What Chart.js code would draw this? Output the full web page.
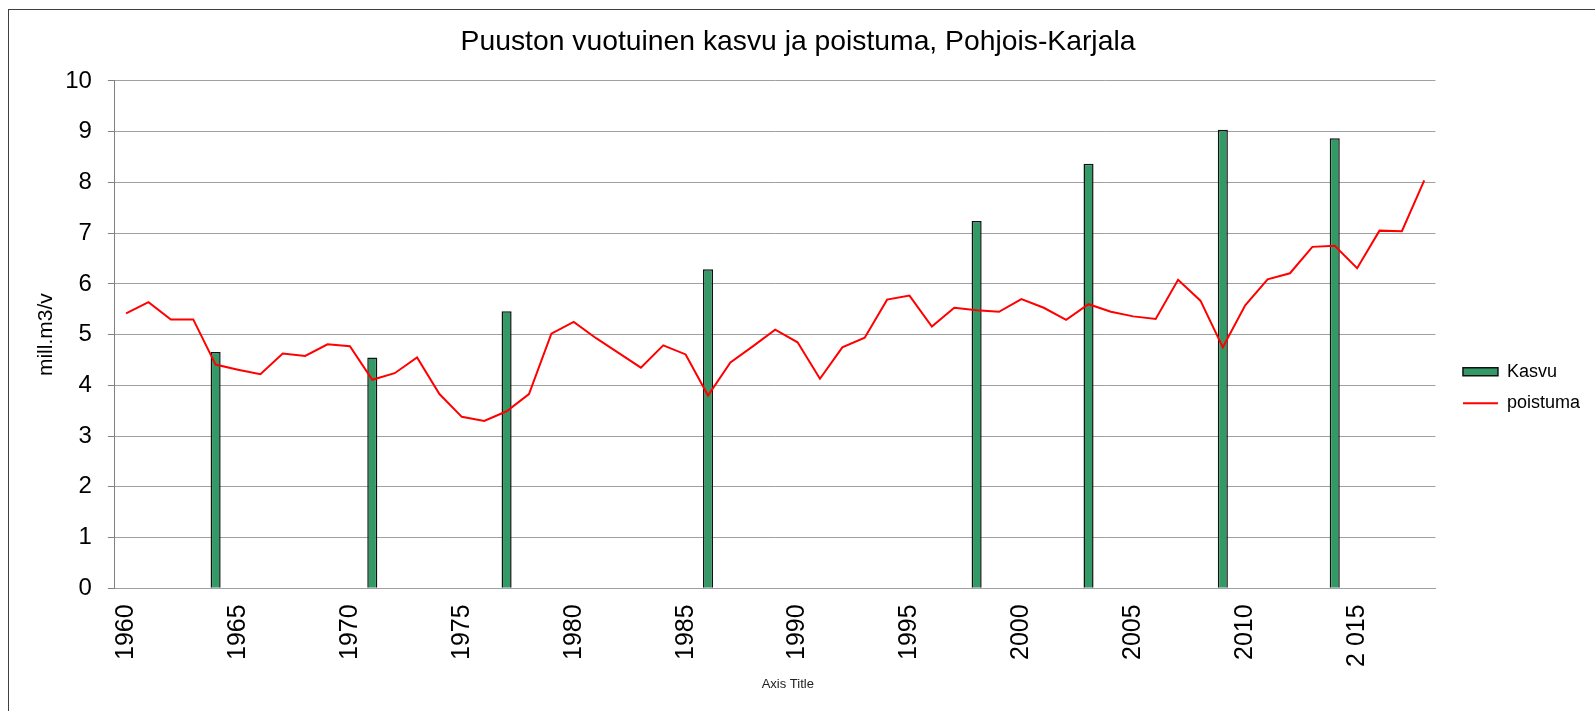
<!DOCTYPE html>
<html>
<head>
<meta charset="utf-8">
<script src="https://cdn.jsdelivr.net/npm/chart.js@4.4.1/dist/chart.umd.min.js"></script>
<style>
  body { margin: 0; background: #fff; }
  #wrap { position: relative; width: 1595px; height: 711px; }
  #frame { position: absolute; left: 8px; top: 9px; right: 0; bottom: 0; border-left: 1px solid #404040; border-top: 1px solid #404040; pointer-events: none; }
</style>
</head>
<body>
<div id="wrap">
  <canvas id="chart" width="1595" height="711"></canvas>
  <div id="frame"></div>
</div>
<script>
// years 1960..2018
var years = ['1960','1961','1962','1963','1964','1965','1966','1967','1968','1969',
             '1970','1971','1972','1973','1974','1975','1976','1977','1978','1979',
             '1980','1981','1982','1983','1984','1985','1986','1987','1988','1989',
             '1990','1991','1992','1993','1994','1995','1996','1997','1998','1999',
             '2000','2001','2002','2003','2004','2005','2006','2007','2008','2009',
             '2010','2011','2012','2013','2014','2015','2016','2017','2018'];

// tick labels, every fifth year
var xTickLabels = ['1960','1965','1970','1975','1980','1985','1990','1995','2000','2005','2010','2 015'];

// Kasvu (only measured in some years)
var kasvu = [null,null,null,null,4.66,null,null,null,null,null,
             null,4.55,null,null,null,null,null,5.46,null,null,
             null,null,null,null,null,null,6.29,null,null,null,
             null,null,null,null,null,null,null,null,7.24,null,
             null,null,null,8.37,null,null,null,null,null,9.04,
             null,null,null,null,8.87,null,null,null,null];

// poistuma
var poistuma = [5.42,5.64,5.30,5.30,4.41,4.31,4.22,4.63,4.58,4.81,
                4.77,4.11,4.24,4.55,3.83,3.38,3.30,3.49,3.83,5.02,
                5.25,4.93,4.64,4.35,4.79,4.61,3.80,4.45,4.77,5.10,
                4.85,4.13,4.75,4.94,5.69,5.77,5.16,5.53,5.48,5.45,
                5.70,5.53,5.29,5.60,5.45,5.36,5.31,6.08,5.67,4.75,
                5.58,6.09,6.21,6.73,6.75,6.31,7.05,7.04,8.04];

Chart.defaults.font.family = "'Liberation Sans', Arial, sans-serif";
Chart.defaults.color = '#000';

// nudge the legend a bit right and down, like in the excel chart
var legendShift = {
	id: 'legendShift',
	afterLayout: function (chart) {
		var l = chart.legend;
		l.left += 14; l.right += 14;
		l.top += 30; l.bottom += 30;
	}
};

new Chart(document.getElementById('chart'), {
	data: {
		labels: years,
		datasets: [{
				type: 'bar',
				label: 'Kasvu',
				data: kasvu,
				backgroundColor: '#339966',
				borderColor: '#111111',
				borderWidth: 1.5,
				barPercentage: 0.45,
				categoryPercentage: 1,
				order: 1
			}, {
				type: 'line',
				label: 'poistuma',
				data: poistuma,
				borderColor: '#ff0000',
				backgroundColor: '#ff0000',
				borderWidth: 2,
				pointRadius: 0,
				tension: 0,
				fill: false,
				order: 0
			}
		]
	},
	plugins: [legendShift],
	options: {
		responsive: false,
		animation: false,
		layout: { padding: { left: 20, right: 19, top: 14, bottom: 10 } },
		plugins: {
			title: {
				display: true,
				text: 'Puuston vuotuinen kasvu ja poistuma, Pohjois-Karjala',
				font: { size: 28.3, weight: 'normal' },
				padding: { top: 11, bottom: 22 }
			},
			legend: {
				position: 'right',
				labels: {
					font: { size: 18 },
					usePointStyle: true,
					pointStyleWidth: 35,
					boxHeight: 8,
					padding: 13.5,
					generateLabels: function (chart) {
						return chart.data.datasets.map(function (ds, i) {
							return {
								text: ds.label,
								datasetIndex: i,
								fillStyle: ds.backgroundColor,
								strokeStyle: ds.borderColor,
								lineWidth: ds.borderWidth,
								pointStyle: ds.type === 'line' ? 'line' : 'rect',
								hidden: false
							};
						});
					}
				}
			},
			tooltip: { enabled: false }
		},
		scales: {
			x: {
				grid: { display: true, drawOnChartArea: false, drawTicks: true, tickLength: 16,
				        color: 'rgba(0,0,0,0)', tickColor: 'rgba(0,0,0,0)' },
				border: { color: '#a0a0a0' },
				ticks: {
					autoSkip: false,
					maxRotation: 90,
					minRotation: 90,
					padding: 0,
					font: { size: 25 },
					callback: function (val, i) { return i % 5 === 0 ? xTickLabels[i / 5] : ''; }
				},
				title: {
					display: true,
					text: '       Axis Title',
					font: { size: 13 },
					color: '#222',
					padding: { top: 9.5, bottom: 9 }
				}
			},
			y: {
				min: 0,
				max: 10,
				ticks: { stepSize: 1, padding: 0, font: { size: 24 } },
				grid: { color: '#a0a0a0', tickLength: 23, tickColor: '#808080', tickBorderDash: [0, 16, 7, 100] },
				border: { color: '#808080' },
				title: {
					display: true,
					text: 'mill.m3/v',
					font: { size: 21 },
					padding: { top: 14, bottom: 6 }
				}
			}
		}
	}
});
</script>
</body>
</html>
